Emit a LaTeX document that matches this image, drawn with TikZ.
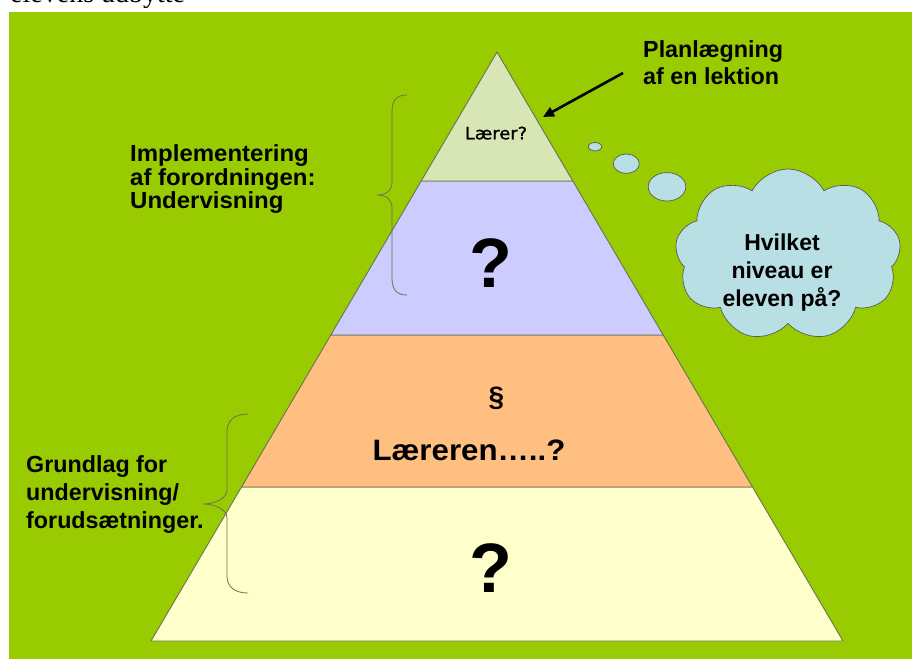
\documentclass[tikz,border=0pt]{standalone}
\usepackage{fontspec}
\setmainfont{Liberation Sans}
\newfontfamily\capserif{Liberation Serif}
\newfontfamily\handfont[FakeBold=1]{DejaVu Sans}
\usetikzlibrary{shapes.symbols,arrows.meta}
\definecolor{bggreen}{HTML}{99CC00}
\definecolor{tierA}{HTML}{D8E6B6}
\definecolor{tierB}{HTML}{CCCCFF}
\definecolor{tierC}{HTML}{FFBF80}
\definecolor{tierD}{HTML}{FFFFCC}
\definecolor{cloudblue}{HTML}{B8E0E4}
\definecolor{edgeol}{RGB}{105,115,80}
\tikzset{
  tier/.style={draw=edgeol, line width=0.9pt, line join=round},
  brace/.style={draw=edgeol, line width=0.8pt},
  bubble/.style={draw=black!65, line width=0.7pt, fill=cloudblue},
  bigtxt/.style={font=\bfseries\fontsize{23.3}{26.7}\selectfont, inner sep=0pt},
}
\begin{document}
\begin{tikzpicture}[x=1pt,y=-1pt]
\useasboundingbox (0,0) rectangle (912,659);
\fill[white] (0,0) rectangle (912,659);
\fill[bggreen] (9,12) rectangle (912,659);
\node[anchor=base west, inner sep=0pt, font=\capserif\fontsize{28}{30}\selectfont] (cap) at (10,2) {elevens udbytte};

% pyramid tiers
\filldraw[tier, fill=tierD] (241.5,487) -- (752.5,487) -- (843,641) -- (151,641) -- cycle;
\filldraw[tier, fill=tierC] (330.8,335) -- (663.2,335) -- (752.5,487) -- (241.5,487) -- cycle;
\filldraw[tier, fill=tierB] (421.2,181) -- (572.8,181) -- (663.2,335) -- (330.8,335) -- cycle;
\filldraw[tier, fill=tierA] (497,52) -- (572.8,181) -- (421.2,181) -- cycle;

% tier texts
\node[anchor=base, inner sep=0pt, xscale=1.05, font=\handfont\fontsize{17}{18}\selectfont] (laerer) at (496,139.3) {Lærer?};
\node[inner sep=0pt, font=\bfseries\fontsize{70}{80}\selectfont] (q1) at (491,263) {?};
\node[inner sep=0pt, font=\bfseries\fontsize{28}{32}\selectfont] (para) at (496.5,398) {§};
\node[anchor=base, inner sep=0pt, xscale=1.06, font=\bfseries\fontsize{29.5}{32}\selectfont] (laereren) at (469,460) {Læreren…..?};
\node[inner sep=0pt, font=\bfseries\fontsize{70}{80}\selectfont] (q2) at (491,568) {?};

% braces
\draw[brace] (407,95) .. controls (396,95) and (392,101) .. (392,112) -- (392,182) .. controls (392,190) and (387,195) .. (377,195) .. controls (387,195) and (392,200) .. (392,208) -- (392,278) .. controls (392,289) and (396,295) .. (407,295);
\draw[brace] (248,414) .. controls (235,414) and (227,420) .. (227,432) -- (227,490) .. controls (227,499) and (214,504) .. (203,504) .. controls (214,504) and (227,509) .. (227,518) -- (227,576) .. controls (227,587) and (235,593) .. (248,593);

% left labels
\node[bigtxt, anchor=north west, align=left, xscale=1.03, font=\bfseries\fontsize{23.3}{23.4}\selectfont] (impl) at (130,144.7) {Implementering\\af forordningen:\\Undervisning};
\node[bigtxt, anchor=north west, align=left, font=\bfseries\fontsize{23.3}{27.8}\selectfont] (grund) at (26,455.7) {Grundlag for\\undervisning/\\forudsætninger.};

% planning label and arrow
\node[bigtxt, anchor=north west, align=left] (plan) at (643,40.5) {Planlægning\\af en lektion};
\coordinate (arrstart) at (623,73);
\coordinate (arrend) at (543,117);
\draw[line width=2.6pt, -{Triangle[length=11pt,width=10pt]}] (arrstart) -- (arrend);

% thought bubbles and cloud
\draw[bubble] (595,146.7) ellipse [x radius=6.7, y radius=4.2];
\draw[bubble] (626.3,163.7) ellipse [x radius=13, y radius=9.7];
\draw[bubble] (667,186.8) ellipse [x radius=18.8, y radius=14.2];
\node[cloud, bubble, cloud puffs=9, cloud puff arc=125, minimum width=226pt, minimum height=172pt, inner sep=0pt] (cloud) at (788,255) {};
\node[bigtxt, anchor=north, align=center, font=\bfseries\fontsize{23}{28}\selectfont] (cloudtxt) at (782,233.5) {Hvilket\\niveau er\\eleven på?};
\end{tikzpicture}
\end{document}
